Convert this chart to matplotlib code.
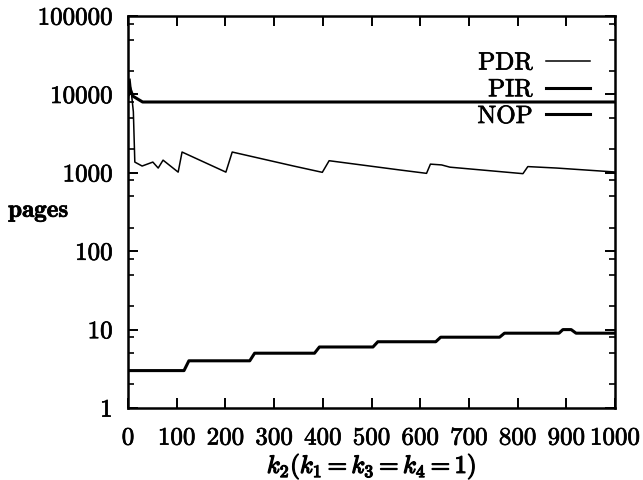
import matplotlib
matplotlib.use('Agg')
import matplotlib.pyplot as plt
import matplotlib.patheffects as pe
from matplotlib.ticker import FixedLocator, FixedFormatter, NullFormatter

plt.rcParams['mathtext.fontset'] = 'cm'
plt.rcParams['font.family'] = 'cmr10'
plt.rcParams['axes.formatter.use_mathtext'] = True

# ---- data ----
pdr_k = [1, 4, 11, 14, 29, 51, 62, 72, 103, 111, 201, 214, 340, 399, 413, 558, 613, 621, 644, 661, 811, 821, 880, 1000]
pdr_v = [9000, 15700, 6000, 1370, 1220, 1370, 1150, 1450, 1020, 1840, 1020, 1840, 1220, 1014, 1426, 1087, 984, 1290, 1260, 1180, 975, 1200, 1150, 1024]

pir_k = [1, 115, 125, 250, 260, 383, 393, 503, 513, 632, 642, 763, 773, 885, 893, 910, 920, 1000]
pir_v = [3, 3, 4, 4, 5, 5, 6, 6, 7, 7, 8, 8, 9, 9, 10, 10, 9, 9]

nop_k = [1, 3, 10, 30, 1000]
nop_v = [10000, 12500, 9500, 8000, 8000]

x_ticks = [0, 100, 200, 300, 400, 500, 600, 700, 800, 900, 1000]
x_ticklabels = ['0', '100', '200', '300', '400', '500', '600', '700', '800', '900', '1000']
y_ticks = [1, 10, 100, 1000, 10000, 100000]
y_ticklabels = ['1', '10', '100', '1000', '10000', '100000']
y_minor = [m * 10 ** e for e in range(0, 5) for m in (2, 5, 8)]

FS = 18
heavy = [pe.withStroke(linewidth=0.5, foreground='black')]

fig = plt.figure(figsize=(6.43, 4.81), dpi=100)
ax = fig.add_axes([128 / 643, 1 - 409 / 481, 487 / 643, 392 / 481])

ax.plot(pdr_k, pdr_v, color='black', lw=1.1, label='PDR')
ax.plot(pir_k, pir_v, color='black', lw=2.2, label='PIR')
ax.plot(nop_k, nop_v, color='black', lw=2.2, label='NOP')

ax.set_yscale('log')
ax.set_xlim(0, 1000)
ax.set_ylim(1, 100000)

ax.xaxis.set_major_locator(FixedLocator(x_ticks))
ax.xaxis.set_major_formatter(FixedFormatter(x_ticklabels))
ax.yaxis.set_major_locator(FixedLocator(y_ticks))
ax.yaxis.set_major_formatter(FixedFormatter(y_ticklabels))
ax.yaxis.set_minor_locator(FixedLocator(y_minor))
ax.yaxis.set_minor_formatter(NullFormatter())

for s in ax.spines.values():
    s.set_linewidth(1.8)

ax.tick_params(axis='both', which='major', direction='in', length=7, width=1.4,
               top=True, right=True, labelsize=FS)
ax.tick_params(axis='y', which='minor', direction='in', length=4.3, width=1.2,
               left=True, right=True)
ax.tick_params(axis='x', which='major', pad=14)
ax.tick_params(axis='y', which='major', pad=11)

for lab in ax.get_xticklabels() + ax.get_yticklabels():
    lab.set_path_effects(heavy)

ax.set_ylabel('pages', rotation=0, fontfamily='cmb10', fontsize=FS, ha='left', va='center')
ax.yaxis.set_label_coords(-0.246, 0.503)
ax.yaxis.label.set_path_effects(heavy)
ax.set_xlabel(r'$k_2(k_1=k_3=k_4=1)$', fontsize=FS)
ax.xaxis.set_label_coords(0.5, -0.15)
ax.xaxis.label.set_va('center')
ax.xaxis.label.set_path_effects([pe.withStroke(linewidth=0.9, foreground='black')])

leg = ax.legend(loc='upper right', bbox_to_anchor=(1.0, 1.0 - 11 / 392),
                frameon=False, markerfirst=False, fontsize=FS,
                handlelength=1.75, handletextpad=0.55, labelspacing=0.17,
                borderaxespad=0.5, borderpad=0.5)
for t in leg.get_texts():
    t.set_path_effects(heavy)

fig.savefig('out.png', dpi=100)
